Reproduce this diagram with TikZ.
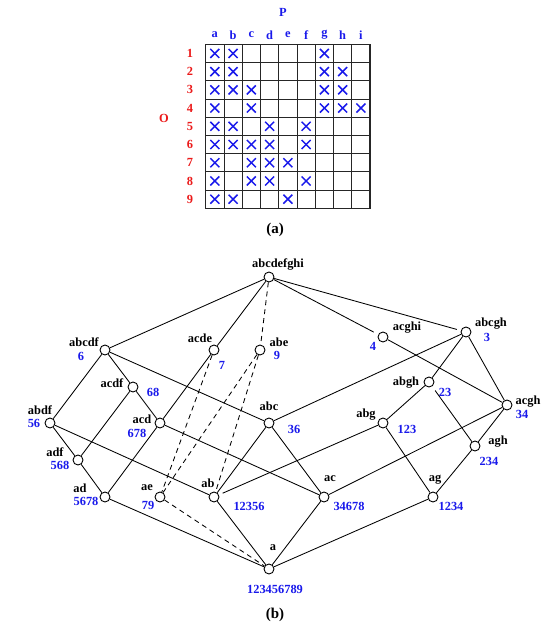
\documentclass[tikz,border=0pt]{standalone}
\usepackage{fontspec}
\setmainfont{Liberation Serif}
\definecolor{myblue}{RGB}{25,25,235}
\definecolor{myred}{RGB}{235,25,25}
\begin{document}
\begin{tikzpicture}[x=1pt,y=-1pt,
  vtx/.style={circle, draw, fill=white, minimum size=10pt, inner sep=0pt, line width=0.9pt},
  lbl/.style={font=\fontsize{12.4}{14}\selectfont\bfseries, inner sep=0pt},
  captext/.style={font=\fontsize{15}{17}\selectfont\bfseries, inner sep=0pt},
  num/.style={lbl, text=myblue},
  rowlbl/.style={lbl, text=myred},
  edge/.style={line width=0.85pt},
  dedge/.style={edge, dash pattern=on 5pt off 4pt},
  gridline/.style={line width=0.9pt, black!85},
  crossmark/.style={line width=1.5pt, myblue}]
\useasboundingbox (0,0) rectangle (541,625);
% ---------- (a) grid ----------
\def\gx{205.7}\def\gy{44.3}\def\cw{18.26}\def\ch{18.22}
\foreach \i in {0,...,9} {
  \draw[gridline] ({\gx+\i*\cw},\gy) -- ({\gx+\i*\cw},{\gy+9*\ch});
  \draw[gridline] (\gx,{\gy+\i*\ch}) -- ({\gx+9*\cw},{\gy+\i*\ch});
}
\draw[line width=1.2pt, black!85] (\gx,\gy) rectangle ({\gx+9*\cw},{\gy+9*\ch});
\foreach \l [count=\i] in {a,b,c,d,e,f,g,h,i}
  \node[lbl, text=myblue] (col-\l) at ({\gx+(\i-0.5)*\cw},35) {\l};
\foreach \i in {1,...,9}
  \node[rowlbl] (row-\i) at (190,{\gy+(\i-0.5)*\ch}) {\i};
\node[lbl, text=myblue] (P) at (283,12) {P};
\node[rowlbl] (O) at (164,118) {O};
\node[captext] (capa) at (275,230) {(a)};
\foreach \r/\cols in {1/{1,2,7},2/{1,2,7,8},3/{1,2,3,7,8},4/{1,3,7,8,9},5/{1,2,4,6},6/{1,2,3,4,6},7/{1,3,4,5},8/{1,3,4,6},9/{1,2,5}} {
  \foreach \c in \cols {
    \draw[crossmark] ({\gx+(\c-0.5)*\cw-4.5},{\gy+(\r-0.5)*\ch-4.5}) -- ({\gx+(\c-0.5)*\cw+4.5},{\gy+(\r-0.5)*\ch+4.5});
    \draw[crossmark] ({\gx+(\c-0.5)*\cw-4.5},{\gy+(\r-0.5)*\ch+4.5}) -- ({\gx+(\c-0.5)*\cw+4.5},{\gy+(\r-0.5)*\ch-4.5});
  }
}
% ---------- (b) lattice ----------
\node[vtx] (top) at (269,277) {};
\node[vtx] (abcdf) at (105,350) {};
\node[vtx] (acde) at (214,350) {};
\node[vtx] (abe) at (260,350) {};
\node[vtx] (acghi) at (383,337) {};
\node[vtx] (abcgh) at (466,332) {};
\node[vtx] (acdf) at (133,387) {};
\node[vtx] (abgh) at (429,382) {};
\node[vtx] (acgh) at (507,405) {};
\node[vtx] (abdf) at (50,423) {};
\node[vtx] (acd) at (160,423) {};
\node[vtx] (abc) at (269,423) {};
\node[vtx] (abg) at (383,423) {};
\node[vtx] (adf) at (78,460) {};
\node[vtx] (agh) at (475,446) {};
\node[vtx] (ad) at (105,497) {};
\node[vtx] (ae) at (160,497) {};
\node[vtx] (ab) at (214,497) {};
\node[vtx] (ac) at (324,497) {};
\node[vtx] (ag) at (433,497) {};
\node[vtx] (a) at (269,569) {};
% labels
\node[lbl] (l-top) at (278,264) {abcdefghi};
\node[lbl] (l-abcdf) at (84,342) {abcdf};
\node[num] (n-abcdf) at (81,356) {6};
\node[lbl] (l-acde) at (200,338) {acde};
\node[num] (n-acde) at (222,365) {7};
\node[lbl] (l-abe) at (279,342) {abe};
\node[num] (n-abe) at (277,355) {9};
\node[lbl] (l-acghi) at (407,328) {acghi};
\node[num] (n-acghi) at (373,346) {4};
\node[lbl] (l-abcgh) at (491,324) {abcgh};
\node[num] (n-abcgh) at (487,337) {3};
\node[lbl] (l-acdf) at (112,383) {acdf};
\node[num] (n-acdf) at (153,392) {68};
\node[lbl] (l-abgh) at (406,383) {abgh};
\node[num] (n-abgh) at (445,392) {23};
\node[lbl] (l-acgh) at (528,402) {acgh};
\node[num] (n-acgh) at (522,414) {34};
\node[lbl] (l-abdf) at (40,410) {abdf};
\node[num] (n-abdf) at (34,423) {56};
\node[lbl] (l-acd) at (142,419) {acd};
\node[num] (n-acd) at (137,433) {678};
\node[lbl] (l-abc) at (269,406) {abc};
\node[num] (n-abc) at (294,429) {36};
\node[lbl] (l-abg) at (366,415) {abg};
\node[num] (n-abg) at (407,429) {123};
\node[lbl] (l-adf) at (55,452) {adf};
\node[num] (n-adf) at (60,465) {568};
\node[lbl] (l-agh) at (498,442) {agh};
\node[num] (n-agh) at (489,461) {234};
\node[lbl] (l-ad) at (80,488) {ad};
\node[num] (n-ad) at (86,501) {5678};
\node[lbl] (l-ae) at (147,488) {ae};
\node[num] (n-ae) at (148,505) {79};
\node[lbl] (l-ab) at (208,483) {ab};
\node[num] (n-ab) at (249,506) {12356};
\node[lbl] (l-ac) at (330,479) {ac};
\node[num] (n-ac) at (349,506) {34678};
\node[lbl] (l-ag) at (435,480) {ag};
\node[num] (n-ag) at (451,506) {1234};
\node[lbl] (l-a) at (273,548) {a};
\node[num] (n-a) at (275,589) {123456789};
\node[captext] (capb) at (275,615) {(b)};
% edges
\draw[edge] (top) -- (abcdf);
\draw[edge] (top) -- (acde);
\draw[edge, shorten >=5pt] (top) -- (acghi);
\draw[edge, shorten >=4pt] (top) -- (abcgh);
\draw[dedge] (top) -- (abe);
\draw[edge] (abcdf) -- (abdf);
\draw[edge] (abcdf) -- (acdf);
\draw[edge] (abcdf) -- (abc);
\draw[edge] (acde) -- (acd);
\draw[dedge] (acde) -- (ae);
\draw[dedge] (abe) -- (ae);
\draw[dedge] (abe) -- (ab);
\draw[edge] (acghi) -- (acgh);
\draw[edge] (abcgh) -- (abc);
\draw[edge] (abcgh) -- (abgh);
\draw[edge] (abcgh) -- (acgh);
\draw[edge] (acdf) -- (adf);
\draw[edge] (acdf) -- (acd);
\draw[edge] (abdf) -- (adf);
\draw[edge] (abdf) -- (ab);
\draw[edge] (acd) -- (ad);
\draw[edge] (acd) -- (ac);
\draw[edge] (abc) -- (ab);
\draw[edge] (abc) -- (ac);
\draw[edge] (abgh) -- (abg);
\draw[edge, shorten <=5pt] (abgh) -- (agh);
\draw[edge] (acgh) -- (ac);
\draw[edge] (acgh) -- (agh);
\draw[edge, shorten >=4pt] (abg) -- (ab);
\draw[edge] (abg) -- (ag);
\draw[edge] (adf) -- (ad);
\draw[edge] (agh) -- (ag);
\draw[edge] (ad) -- (a);
\draw[dedge] (ae) -- (a);
\draw[edge] (ab) -- (a);
\draw[edge] (ac) -- (a);
\draw[edge] (ag) -- (a);
\end{tikzpicture}
\end{document}
